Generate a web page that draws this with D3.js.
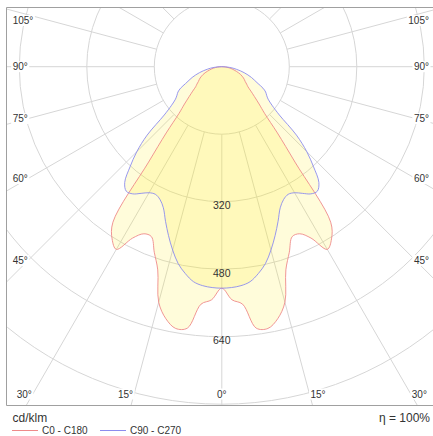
<!DOCTYPE html>
<html><head><meta charset="utf-8">
<script src="https://cdn.jsdelivr.net/npm/d3@7/dist/d3.min.js"></script>
<style>html,body{margin:0;padding:0;background:#fff;}svg{display:block;}</style>
</head><body><svg id="c" width="433" height="436"></svg>
<script>
// ---- data ----
const gammas = [0,2.5,5,7.5,10,12.5,15,17.5,20,22.5,25,27.5,30,32.5,35,37.5,40,42.5,45,47.5,50,52.5,55,57.5,60,62.5,65,67.5,70,72.5,75,77.5,80,82.5,85,87.5,90];
const c0c180 = [525,553,565,625,630,612,578,505,468,436,437,458,500,484,450,285,205,150,125,105,90,78,72,66,62,58,53,48,42,36,30,25,20,15,10,5,0];
const c90c270 = [525,524,521,514,498,478,450,420,390,362,347,341,345,356,368,372,358,322,285,240,178,150,134,126,120,110,95,84,75,65,55,45,35,27,18,9,0];
const ringValues = [160,320,480,640,800];
const ringLabels = ["320","480","640"];
const angleTicks = [0,15,30,45,60,75,90,105];
const seriesNames = ["C0 - C180","C90 - C270"];
const unitLabel = "cd/klm";
const effLabel = "\u03b7 = 100%";

// ---- layout ----
const W = 433, H = 436;
const cx = 221.8, cy = 66.7;
const frame = {x0: 6.5, y0: 7.5, x1: 440, y1: 405.5};
const r = d3.scaleLinear().domain([0, 800]).range([0, 337.5]);
const svg = d3.select("#c");
const font = "'Liberation Sans', Arial, sans-serif";
const textCol = "#333";

svg.append("defs").append("clipPath").attr("id","fr")
  .append("rect").attr("x",frame.x0).attr("y",frame.y0)
  .attr("width",frame.x1-frame.x0).attr("height",frame.y1-frame.y0);

const g = svg.append("g").attr("clip-path","url(#fr)");
const center = g.append("g").attr("transform",`translate(${cx},${cy})`);

// grid circles
center.selectAll("circle.ring").data(ringValues).join("circle")
  .attr("r", d => r(d)).attr("fill","none").attr("stroke","#d6d6d6").attr("stroke-width",1);
// radial lines
const spokes = d3.range(0, 360, 15);
center.selectAll("line.sp").data(spokes).join("line")
  .attr("x1", a => r(160)*Math.sin(a*Math.PI/180))
  .attr("y1", a => r(160)*Math.cos(a*Math.PI/180))
  .attr("x2", a => r(1400)*Math.sin(a*Math.PI/180))
  .attr("y2", a => r(1400)*Math.cos(a*Math.PI/180))
  .attr("stroke","#d6d6d6").attr("stroke-width",1);

// curves
function pts(vals){
  const p = [];
  for (let i = 0; i < gammas.length; i++) p.push([Math.PI - gammas[i]*Math.PI/180, r(vals[i])]);
  for (let i = gammas.length - 2; i > 0; i--) p.push([Math.PI + gammas[i]*Math.PI/180, r(vals[i])]);
  return p;
}
const radial = d3.lineRadial().angle(d => d[0]).radius(d => d[1]).curve(d3.curveCatmullRomClosed.alpha(0.5));
const series = [
  {vals: c0c180, stroke: "#ee8a8a"},
  {vals: c90c270, stroke: "#8c8cee"}
];
center.selectAll("path.fill").data(series).join("path")
  .attr("d", d => radial(pts(d.vals))).attr("fill","#ffee22").attr("fill-opacity",0.17).attr("stroke","none");
center.selectAll("path.line").data(series).join("path")
  .attr("d", d => radial(pts(d.vals))).attr("fill","none").attr("stroke", d => d.stroke).attr("stroke-width",0.9);

// ring labels
center.selectAll("text.rl").data(ringLabels).join("text")
  .attr("x", 0).attr("y", d => r(+d) + 7.5)
  .attr("text-anchor","middle").attr("font-family",font).attr("font-size",10.5).attr("fill",textCol)
  .text(d => d);

// angle labels
const labG = svg.append("g");
const bottomY = 394, sideInner = cx - 28;
const labs = [];
angleTicks.forEach(t => {
  const sides = t === 0 ? [0] : [-1, 1];
  sides.forEach(s => {
    const rad = t*Math.PI/180;
    const dyB = bottomY - cy;
    let x, y, anchor;
    if (t < 90 && Math.tan(rad)*dyB <= sideInner) {
      y = bottomY;
      const xr = cx + s*Math.tan(rad)*dyB;
      x = s === 0 ? cx : xr + s*1;
      anchor = s === 0 ? "middle" : (s < 0 ? "end" : "start");
      if (s < 0 && x - 15 < 14) { x = 14; anchor = "start"; }
      if (s > 0 && x + 15 > 429) { x = 429; anchor = "end"; }
    } else {
      y = cy + sideInner / Math.tan(rad);
      if (Math.abs(t-90) < 1e-9) y = cy;
      y = Math.max(y, 20.5);
      x = s < 0 ? 12.7 : 429;
      anchor = s < 0 ? "start" : "end";
    }
    labs.push({t, x, y, anchor});
  });
});
const lg = labG.selectAll("g").data(labs).join("g");
lg.append("rect").attr("fill","#fff");
lg.append("text").attr("x", d => d.x).attr("y", d => d.y).attr("dy","0.35em")
  .attr("text-anchor", d => d.anchor).attr("font-family",font).attr("font-size",10).attr("fill",textCol)
  .text(d => d.t + "\u00b0");
lg.each(function(){
  const t = d3.select(this).select("text").node().getBBox();
  d3.select(this).select("rect").attr("x",t.x-1.5).attr("y",t.y).attr("width",t.width+3).attr("height",t.height);
});

// frame
svg.append("path").attr("d",`M${W+2},${frame.y0}H${frame.x0}V${frame.y1}H${W+2}`)
  .attr("fill","none").attr("stroke","#a0a0a0").attr("stroke-width",1);

// footer
svg.append("text").attr("x",12.5).attr("y",421.5).attr("font-family",font).attr("font-size",12).attr("fill",textCol).text(unitLabel);
svg.append("text").attr("x",430).attr("y",421.5).attr("text-anchor","end").attr("font-family",font).attr("font-size",12).attr("fill",textCol).text(effLabel);
const leg = svg.append("g");
const legX = [12, 100];
series.forEach((s, i) => {
  leg.append("line").attr("x1",legX[i]).attr("x2",legX[i]+26).attr("y1",430.5).attr("y2",430.5).attr("stroke",s.stroke).attr("stroke-width",1);
  leg.append("text").attr("x",legX[i]+30).attr("y",434).attr("font-family",font).attr("font-size",10).attr("fill",textCol).text(seriesNames[i]);
});
</script></body></html>
